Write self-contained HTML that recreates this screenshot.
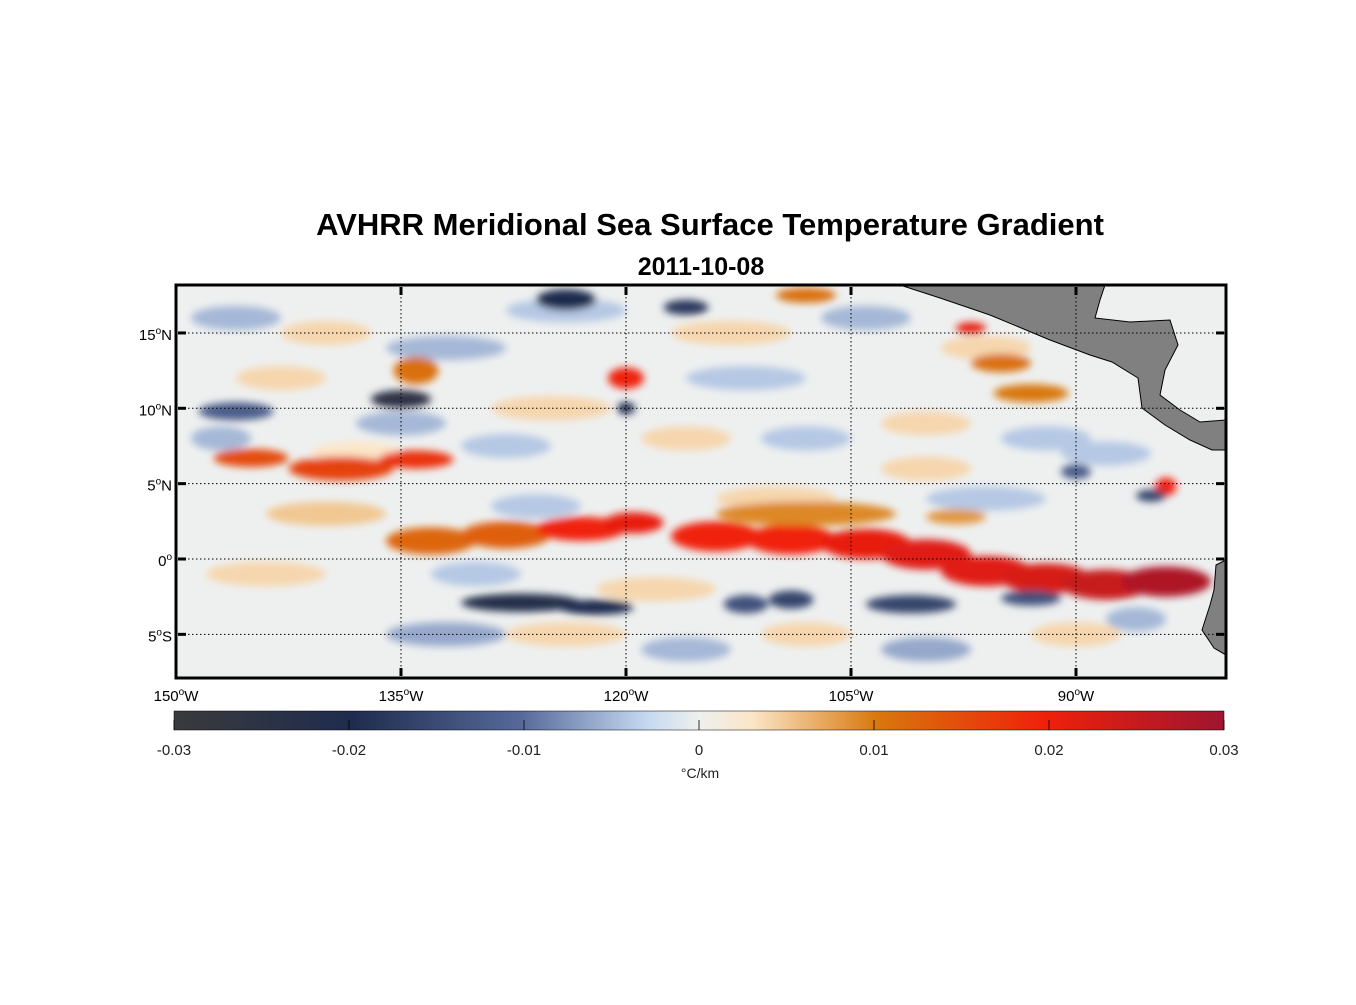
<!DOCTYPE html>
<html><head><meta charset="utf-8"><style>
body{margin:0;background:#fff;font-family:"Liberation Sans",Arial,sans-serif}
</style></head><body>
<svg width="1356" height="1000" xmlns="http://www.w3.org/2000/svg">
<defs>
<clipPath id="mapclip"><rect x="176" y="285" width="1050" height="393"/></clipPath>
<filter id="blur" x="-20%" y="-50%" width="140%" height="200%"><feGaussianBlur stdDeviation="4"/></filter>
<linearGradient id="cmap" x1="0" x2="1" y1="0" y2="0">
<stop offset="0" stop-color="#3a3a3c"/>
<stop offset="0.17" stop-color="#1f2c4e"/>
<stop offset="0.33" stop-color="#56699a"/>
<stop offset="0.45" stop-color="#c5d8f0"/>
<stop offset="0.5" stop-color="#eef0ee"/>
<stop offset="0.55" stop-color="#fbe6c8"/>
<stop offset="0.67" stop-color="#d8780c"/>
<stop offset="0.83" stop-color="#f0200a"/>
<stop offset="1" stop-color="#9e1530"/>
</linearGradient>
</defs>
<text x="710" y="235" text-anchor="middle" font-size="31" font-weight="bold">AVHRR Meridional Sea Surface Temperature Gradient</text>
<text x="701" y="275" text-anchor="middle" font-size="25" font-weight="bold">2011-10-08</text>
<g clip-path="url(#mapclip)">
<rect x="176" y="285" width="1050" height="393" fill="#eef0f0"/>
<g id="blobs" filter="url(#blur)"></g>
<polygon fill="#808080" stroke="#000" stroke-width="1" points="900,285 1105,285 1100,300 1095,318 1130,322 1170,320 1178,345 1165,370 1160,395 1180,410 1200,422 1226,420 1226,450 1212,450 1190,440 1165,425 1142,408 1138,378 1112,362 1090,355 1050,340 990,315 940,298"/>
<polygon fill="#808080" stroke="#000" stroke-width="1" points="1226,560 1216,565 1214,590 1210,605 1202,630 1214,648 1226,655"/>
<g id="grid" stroke="#000" stroke-width="1" stroke-dasharray="1.5,2.5"></g>
</g>
<rect x="176" y="285" width="1050" height="393" fill="none" stroke="#000" stroke-width="3"/>
<g id="axes" font-size="15"></g>
<rect x="174" y="711" width="1050" height="19" fill="url(#cmap)" stroke="#000" stroke-width="0.5"/>
<g id="cbticks" font-size="15" fill="#222"></g>
<text x="700" y="778" text-anchor="middle" font-size="14" fill="#222">°C/km</text>
</svg>
<script>
const lonTicks=[-150,-135,-120,-105,-90];
const latTicks=[-5,0,5,10,15];
const cbTicks=[-0.03,-0.02,-0.01,0,0.01,0.02,0.03];
const blobLon=[-146,-140,-132,-124,-113,-104,-96,-143,-135,-125,
-112,-100,-92,-147,-138,-128,-116,-108,-100,-88,
-140,-126,-110,-96,-144,-130,-118,-132,-124,-116,
-108,-100,-90,-86,-133,-128,-123,-119.5,-114,-109,
-104,-100,-96,-92,-88,-84,-108,-145,-139,-134,
-134,-120,-108,-97,-95,-93,-84,-127,-122,-112,
-109,-101,-93,-135,-146,-124,-116,-120,-98,-90,
-85];
const blobLat=[16,15,14,16.5,15,16,14,12,9,10,
12,9,8,8,7,7.5,8,8,6,7,
3,3.5,4,4,-1,-1,-2,-5,-5,-6,
-5,-6,-5,-4,1.2,1.6,2.0,2.4,1.5,1.3,
1.0,0.3,-0.8,-1.3,-1.7,-1.5,3,6.7,6.0,6.6,
12.5,12,17.5,15.3,13,11,4.8,-2.9,-3.2,-3.0,
-2.7,-3.0,-2.6,10.6,9.8,17.2,16.7,10,2.8,5.8,
4.2];
const blobW=[3,3,4,4,4,3,3,3,3,4,
4,3,3,2,3,3,3,3,3,3,
4,3,4,4,4,3,4,4,4,3,
3,3,3,2,3,3,3,2,3,3,
3,3,3,3,3,3,6,2.5,3.5,2.5,
1.5,1.2,2,1,2,2.5,0.7,4,2.5,1.5,
1.5,3,2,2,2.5,2,1.5,0.6,2,1,
1];
const blobH=[0.8,0.8,0.8,0.8,0.8,0.8,0.8,0.8,0.8,0.8,
0.8,0.8,0.8,0.8,0.8,0.8,0.8,0.8,0.8,0.8,
0.8,0.8,0.8,0.8,0.8,0.8,0.8,0.8,0.8,0.8,
0.8,0.8,0.8,0.8,0.9,0.9,0.8,0.7,1.0,1.0,
1.0,1.0,1.0,1.0,1.0,1.0,0.8,0.6,0.8,0.6,
0.9,0.7,0.5,0.4,0.6,0.6,0.6,0.6,0.5,0.6,
0.6,0.6,0.5,0.6,0.6,0.7,0.5,0.4,0.5,0.5,
0.4];
const blobV=[-0.005,0.004,-0.005,-0.004,0.004,-0.005,0.004,0.004,-0.005,0.004,
-0.004,0.004,-0.004,-0.005,0.003,-0.004,0.004,-0.004,0.004,-0.004,
0.005,-0.004,0.004,-0.004,0.004,-0.004,0.004,-0.006,0.004,-0.005,
0.004,-0.006,0.004,-0.005,0.012,0.013,0.02,0.021,0.02,0.02,
0.021,0.022,0.022,0.023,0.025,0.028,0.009,0.015,0.016,0.018,
0.011,0.02,0.011,0.021,0.011,0.01,0.02,-0.022,-0.02,-0.014,
-0.016,-0.016,-0.014,-0.025,-0.012,-0.02,-0.018,-0.02,0.008,-0.012,
-0.016];
const X=lon=>176+(lon+150)*15.0;
const Y=lat=>559-lat*15.07;
const stops=[[-0.03,[58,58,60]],[-0.02,[31,44,78]],[-0.01,[86,105,154]],[-0.003,[197,216,240]],[0,[238,240,238]],[0.003,[251,230,200]],[0.01,[216,120,12]],[0.02,[240,32,10]],[0.03,[158,21,48]]];
function cmap(v){v=Math.max(-0.03,Math.min(0.03,v));for(let i=0;i<stops.length-1;i++){const a=stops[i],b=stops[i+1];if(v<=b[0]){const t=(v-a[0])/(b[0]-a[0]);const c=a[1].map((x,k)=>Math.round(x+(b[1][k]-x)*t));return `rgb(${c})`;}}return 'rgb(158,21,48)';}
const ns="http://www.w3.org/2000/svg";
const bg=document.getElementById('blobs');
blobLon.forEach((lon,i)=>{const e=document.createElementNS(ns,'ellipse');
e.setAttribute('cx',X(lon));e.setAttribute('cy',Y(blobLat[i]));
e.setAttribute('rx',blobW[i]*15);e.setAttribute('ry',blobH[i]*15.07);
e.setAttribute('fill',cmap(blobV[i]));


bg.appendChild(e);});
const grid=document.getElementById('grid'),ax=document.getElementById('axes');
function line(g,x1,y1,x2,y2,attrs){const l=document.createElementNS(ns,'line');l.setAttribute('x1',x1);l.setAttribute('y1',y1);l.setAttribute('x2',x2);l.setAttribute('y2',y2);for(const k in attrs)l.setAttribute(k,attrs[k]);g.appendChild(l);return l;}
function label(txt,sup,suf,x,y,anchor,name){const t=document.createElementNS(ns,'text');t.setAttribute('x',x);t.setAttribute('y',y);t.setAttribute('text-anchor',anchor);


t.innerHTML=`${txt}<tspan dy="-6" font-size="10">${sup}</tspan><tspan dy="6">${suf}</tspan>`;ax.appendChild(t);}
lonTicks.forEach(lon=>{const x=X(lon);
const gl=line(grid,x,285,x,678,{});
line(ax,x,287,x,295,{stroke:'#000','stroke-width':3});line(ax,x,668,x,676,{stroke:'#000','stroke-width':3});
label(Math.abs(lon),'o','W',x,701,'middle','lon-tick-label');});
latTicks.forEach(lat=>{const y=Y(lat);
const gl=line(grid,176,y,1226,y,{});
line(ax,178,y,186,y,{stroke:'#000','stroke-width':3});line(ax,1216,y,1224,y,{stroke:'#000','stroke-width':3});
label(Math.abs(lat),'o',lat>0?'N':lat<0?'S':'',172,y+7,'end','lat-tick-label');});
const cb=document.getElementById('cbticks');
cbTicks.forEach(v=>{const x=174+(v+0.03)/0.06*1050;
line(cb,x,720,x,730,{stroke:'#000','stroke-width':0.8});
const t=document.createElementNS(ns,'text');t.setAttribute('x',x);t.setAttribute('y',755);t.setAttribute('text-anchor','middle');t.textContent=String(v);


cb.appendChild(t);});
</script>
</body></html>
